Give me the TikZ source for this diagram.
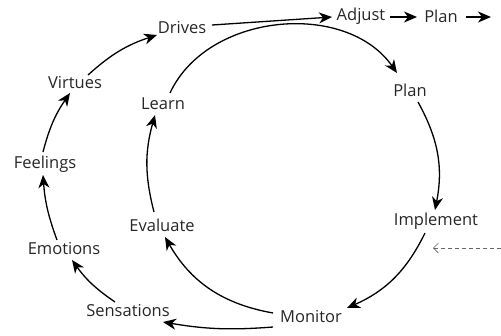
\documentclass[tikz,border=0pt]{standalone}
\usepackage{fontspec}
\setmainfont{Open Sans}
\usetikzlibrary{arrows.meta}

\begin{document}
\begin{tikzpicture}[x=1pt,y=1pt,
		lbl/.style={inner sep=0pt, text=black!85, font=\fontsize{16.5}{18}\selectfont},
		flow/.style={line width=1.3pt, -{Stealth[length=13pt,width=11pt,inset=4pt]}}]
		%%%%% START %%%%%
		
		\useasboundingbox (0,0) rectangle (501,-335);
		
		% outer chain
		\node[lbl] (drives) at (182,-28) {Drives};
		\node[lbl] (virtues) at (75,-83) {Virtues};
		\node[lbl] (feelings) at (45,-164) {Feelings};
		\node[lbl] (emotions) at (64,-249) {Emotions};
		\node[lbl] (sensations) at (128,-311) {Sensations};
		
		% inner cycle
		\node[lbl] (learn) at (163,-104) {Learn};
		\node[lbl] (plan) at (410,-90) {Plan};
		\node[lbl] (implement) at (436,-221) {Implement};
		\node[lbl] (monitor) at (311,-317) {Monitor};
		\node[lbl] (evaluate) at (162,-225) {Evaluate};
		
		% top row
		\node[lbl] (adjust) at (361,-16) {Adjust};
		\node[lbl] (plantop) at (441,-16) {Plan};
		\coordinate (tail) at (491,-17);
		\coordinate (outside) at (501,-248);
		
		\draw[flow] ([shift={(13,8)}]virtues.center) to[bend left=12] ([shift={(-25,-7)}]drives.center);
		\draw[flow] ([shift={(-2,12)}]feelings.center) to[bend left=10] ([shift={(-5,-10)}]virtues.center);
		\draw[flow] ([shift={(-7,9)}]emotions.center) to[bend left=8] ([shift={(-2,-11)}]feelings.center);
		\draw[flow] ([shift={(-13,9)}]sensations.center) to[bend left=10] ([shift={(8,-11)}]emotions.center);
		\draw[flow] ([shift={(-38,-10)}]monitor.center) to[bend left=7] ([shift={(35,-11)}]sensations.center);
		
		\draw[flow] ([shift={(7,11)}]learn.center) to[bend left=60] ([shift={(-13,17)}]plan.center);
		\draw[flow] ([shift={(8,-12)}]plan.center) to[bend left=20] ([shift={(-1,11)}]implement.center);
		\draw[flow] ([shift={(-11,-12)}]implement.center) to[bend left=20] ([shift={(36,9)}]monitor.center);
		\draw[flow] ([shift={(-38,4)}]monitor.center) to[bend left=25] ([shift={(3,-12)}]evaluate.center);
		\draw[flow] ([shift={(-8,13)}]evaluate.center) to[bend left=15] ([shift={(-8,-11)}]learn.center);
		
		\draw[flow] ([shift={(30,3)}]drives.center) -- ([shift={(-29,-1)}]adjust.center);
		\draw[flow] ([shift={(29,-1)}]adjust.center) -- ([shift={(-24,-1)}]plantop.center);
		\draw[flow] ([shift={(25,-1)}]plantop.center) -- (tail);
		
		\draw[black!60, line width=0.6pt, dash pattern=on 4pt off 3pt, -{Straight Barb[length=5pt,width=10pt]}] (outside) -- ([shift={(-3,-27)}]implement.center);
		
		%%%%% END %%%%%
	\end{tikzpicture}
\end{document}
